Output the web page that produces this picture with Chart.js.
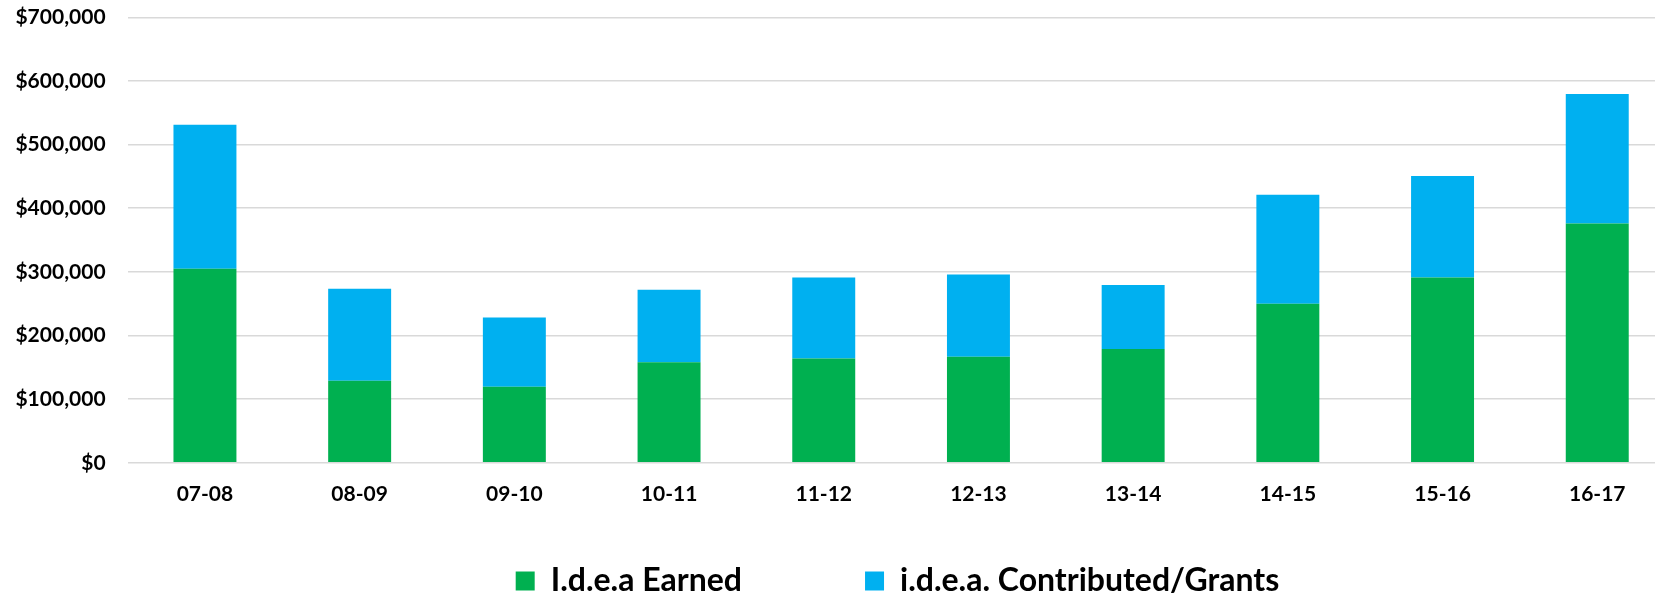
<!DOCTYPE html>
<html>
<head>
<meta charset="utf-8">
<script src="https://cdn.jsdelivr.net/npm/chart.js@4.4.1/dist/chart.umd.min.js"></script>
<style>
  html, body { margin: 0; padding: 0; background: #fff; overflow: hidden; }
  #chart { display: block; }
</style>
</head>
<body>
<canvas id="chart" width="1795" height="597"></canvas>
<script>
// fiscal years on the x axis
var years = ['07-08', '08-09', '09-10', '10-11', '11-12', '12-13', '13-14', '14-15', '15-16', '16-17'];

// dollars
var earned      = [305000, 129000, 119500, 158000, 164000, 166500, 179000, 250000, 291000, 376000];
var contributed = [226000, 144500, 109000, 114000, 127000, 129500, 100500, 171000, 159500, 203500];

var seriesNames = ['I.d.e.a Earned', 'i.d.e.a. Contributed/Grants'];

// y tick range
var yMin = 0, yMax = 700000, yStep = 100000;

Chart.defaults.font.family = 'Lato';
Chart.defaults.color = '#000';

// the original chart is cropped on the right, the legend row sits low and centred on the full width
var legendRow = {
  id: 'legendRow',
  beforeDraw: function(chart) {
    var lg = chart.legend;
    lg.top = 581 - lg.options.labels.padding - 16;
    lg.bottom = chart.height;
    lg.right = chart.width;
  }
};

var ctx = document.getElementById('chart');

var myChart = new Chart(ctx, {
  type: 'bar',
  data: {
    labels: years,
    datasets: [{
      label: seriesNames[0],
      data: earned,
      backgroundColor: '#00b050',
      borderWidth: 0
    }, {
      label: seriesNames[1],
      data: contributed,
      backgroundColor: '#00b0f0',
      borderWidth: 0
    }]
  },
  options: {
    responsive: false,
    animation: false,
    layout: { padding: { top: 17.3, right: 120.4, left: 0, bottom: 0 } },
    datasets: {
      bar: { categoryPercentage: 1, barPercentage: 0.407 }
    },
    scales: {
      x: {
        stacked: true,
        grid: { display: false, drawTicks: false },
        border: { display: false },
        ticks: { padding: 19, font: { size: 21, weight: 'bold' } }
      },
      y: {
        stacked: true,
        min: yMin,
        max: yMax,
        grid: { color: '#d9d9d9', lineWidth: 1.5, drawTicks: false },
        border: { display: false },
        ticks: {
          stepSize: yStep,
          padding: 22,
          font: { size: 21, weight: 'bold' },
          callback: function(v) { return '$' + v.toLocaleString('en-US'); }
        },
        // fixed axis width, and no extra room reserved above the top label
        afterFit: function(scale) {
          scale.width = 127.6;
          scale.paddingTop = 0;
          scale.paddingBottom = 0;
        }
      }
    },
    plugins: {
      tooltip: { enabled: false },
      legend: {
        position: 'bottom',
        maxHeight: 71,
        labels: {
          boxWidth: 19,
          boxHeight: 19,
          padding: 123,
          font: { size: 32, weight: 'bold' }
        }
      }
    }
  },
  plugins: [legendRow]
});
</script>
</body>
</html>
